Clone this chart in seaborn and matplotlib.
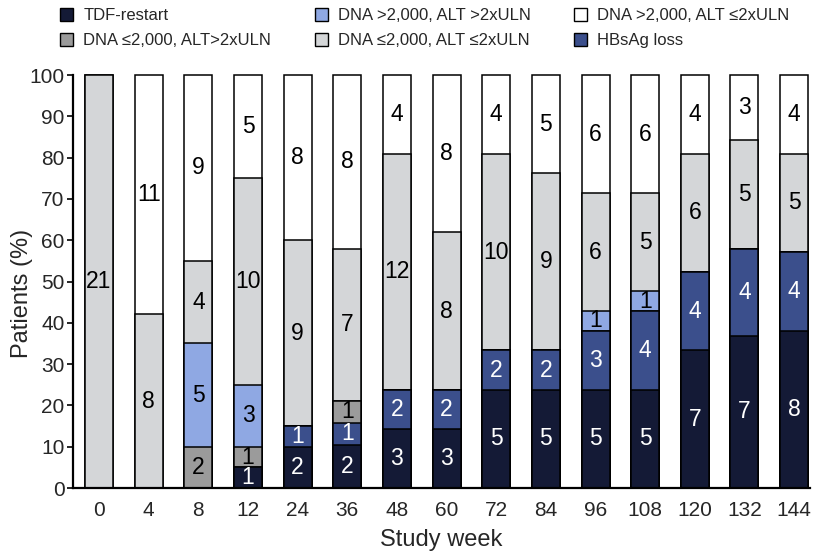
import numpy as np
import pandas as pd
import matplotlib
matplotlib.use("Agg")
import matplotlib.pyplot as plt
from matplotlib.patches import Patch
import seaborn as sns

# Study weeks and patient counts per outcome category
weeks = [0, 4, 8, 12, 24, 36, 48, 60, 72, 84, 96, 108, 120, 132, 144]
tdf_restart = [0, 0, 0, 1, 2, 2, 3, 3, 5, 5, 5, 5, 7, 7, 8]
hbsag_loss = [0, 0, 0, 0, 1, 1, 2, 2, 2, 2, 3, 4, 4, 4, 4]
dna_low_alt_high = [0, 0, 2, 1, 0, 1, 0, 0, 0, 0, 0, 0, 0, 0, 0]
dna_high_alt_high = [0, 0, 5, 3, 0, 0, 0, 0, 0, 0, 1, 1, 0, 0, 0]
dna_low_alt_low = [21, 8, 4, 10, 9, 7, 12, 8, 10, 9, 6, 5, 6, 5, 5]
dna_high_alt_low = [0, 11, 9, 5, 8, 8, 4, 8, 4, 5, 6, 6, 4, 3, 4]

# Stacking order, bottom to top
layers = [
    ("TDF-restart", tdf_restart, "#141a36", "white"),
    ("HBsAg loss", hbsag_loss, "#3b4f8c", "white"),
    ("DNA \u22642,000, ALT>2xULN", dna_low_alt_high, "#9b9b9b", "black"),
    ("DNA >2,000, ALT >2xULN", dna_high_alt_high, "#8fa8e3", "black"),
    ("DNA \u22642,000, ALT \u22642xULN", dna_low_alt_low, "#d4d6d8", "black"),
    ("DNA >2,000, ALT \u22642xULN", dna_high_alt_low, "#ffffff", "black"),
]

sns.set_theme(style="white")
plt.rcParams["font.family"] = ["Liberation Sans", "DejaVu Sans"]

counts = np.array([l[1] for l in layers], dtype=float)
totals = counts.sum(axis=0)
pct = counts / totals * 100
tops = np.cumsum(pct, axis=0)
bottoms = tops - pct

week_labels = [str(w) for w in weeks]
df = pd.DataFrame({"week": week_labels})
for i, (name, _, _, _) in enumerate(layers):
    df[f"top{i}"] = tops[i]

fig = plt.figure(figsize=(8.15, 5.52), dpi=100)
ax = fig.add_axes([0.0896, 0.1159, 0.9043, 0.7482])

bar_w = 0.564
# Draw cumulative heights from the top layer down so each segment shows
for i in range(len(layers) - 1, -1, -1):
    sns.barplot(data=df, x="week", y=f"top{i}", order=week_labels,
                color=layers[i][2], saturation=1, width=bar_w,
                edgecolor="black", linewidth=1.1, errorbar=None, ax=ax)

for p in ax.patches:
    p.set_clip_on(False)

# Count labels in the middle of each segment
for i, (name, vals, col, tcol) in enumerate(layers):
    for j, v in enumerate(vals):
        if v > 0:
            ax.text(j, (bottoms[i, j] + tops[i, j]) / 2, str(v),
                    ha="center", va="center", fontsize=16.5, color=tcol)

ax.set_xlim(-0.524, 14.32)
ax.set_ylim(0, 100)
ax.set_yticks(np.arange(0, 101, 10))
ax.set_xlabel("Study week", fontsize=17, labelpad=7)
ax.set_ylabel("Patients (%)", fontsize=17)
ax.yaxis.set_label_coords(-0.054, 0.47)
ax.tick_params(axis="y", labelsize=15, length=4, width=1.2, color="black",
               left=True, pad=2)
ax.tick_params(axis="x", labelsize=15, length=0, pad=9)
for s in ["top", "right"]:
    ax.spines[s].set_visible(False)
for s in ["left", "bottom"]:
    ax.spines[s].set_color("black")
    ax.spines[s].set_linewidth(1.6)

legend_order = [0, 2, 3, 4, 5, 1]
handles = [Patch(facecolor=layers[k][2], edgecolor="black", linewidth=1.0,
                 label=layers[k][0]) for k in legend_order]
fig.legend(handles=handles, ncol=3, loc="upper left",
           bbox_to_anchor=(0.0675, 0.995), frameon=False, fontsize=12,
           handlelength=0.8, handleheight=0.8, handletextpad=0.6,
           columnspacing=2.6, labelspacing=0.62, borderpad=0.3,
           borderaxespad=0)

fig.savefig("out.png", dpi=100)
